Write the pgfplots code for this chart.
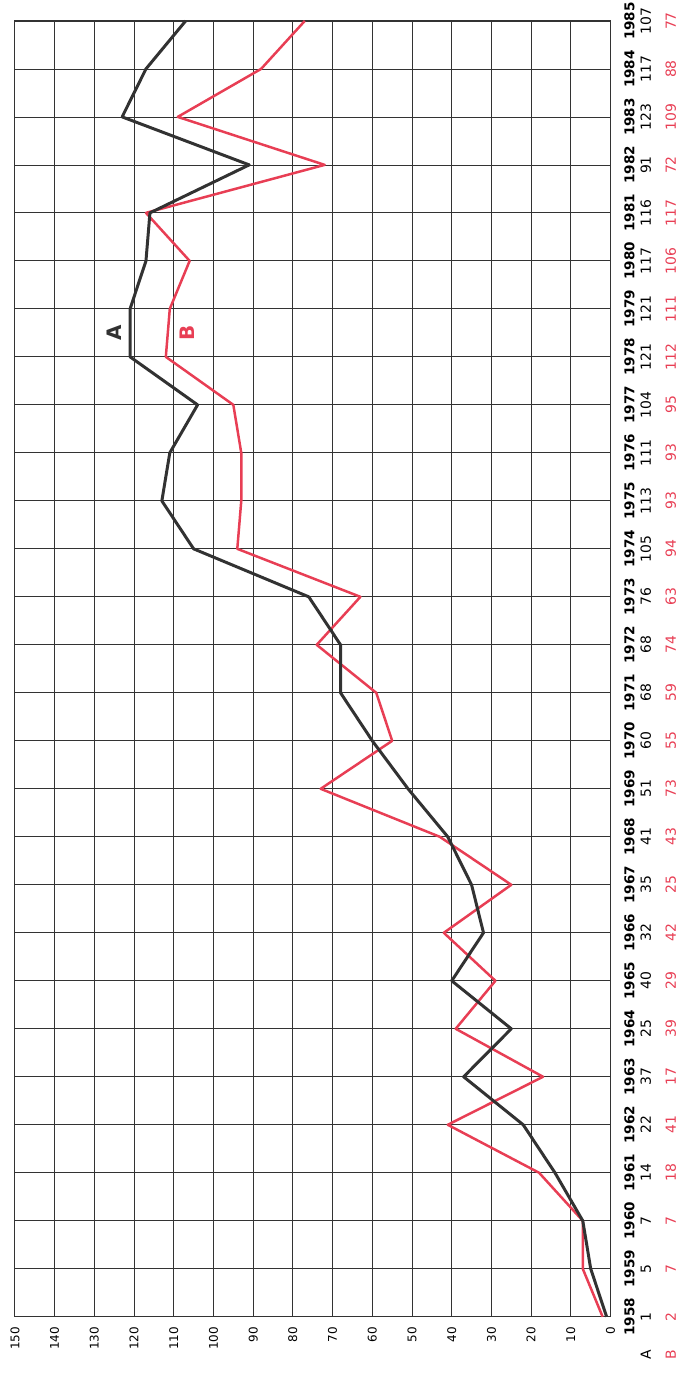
\documentclass[border=0pt]{standalone}
\usepackage{pgfplots}
\pgfplotsset{compat=1.18}
\usepackage{fontspec}
\setmainfont{DejaVu Sans}
\definecolor{bred}{RGB}{232,62,84}
\definecolor{aline}{RGB}{50,50,50}
\newcommand{\yl}[3]{{\fontsize{6.8}{8.25}\selectfont\bfseries #1}\\#2\\[4.25pt]\textcolor{bred}{#3}}
\begin{document}
\begin{tikzpicture}
\begin{axis}[
  scale only axis, width=299pt, height=650.5pt,
  x dir=reverse, xmin=0, xmax=150, ymin=1958, ymax=1985,
  xtick={0,10,...,150}, ytick={1958,1959,...,1985},
  grid=major, major grid style={line width=0.5pt, black!80},
  axis line style={line width=0.5pt, black!80},
  major tick length=0pt,
  /pgf/number format/assume math mode=true,
  xticklabel style={rotate=90, anchor=east, inner sep=0pt, xshift=-5pt, font=\fontsize{6}{7}\selectfont},
  yticklabel pos=right,
  yticklabel style={rotate=90, anchor=north, align=center, inner sep=0pt, yshift=-6.75pt, font=\fontsize{7}{8.25}\selectfont},
  yticklabels={{\yl{1958}{1}{2}},{\yl{1959}{5}{7}},{\yl{1960}{7}{7}},{\yl{1961}{14}{18}},
    {\yl{1962}{22}{41}},{\yl{1963}{37}{17}},{\yl{1964}{25}{39}},{\yl{1965}{40}{29}},
    {\yl{1966}{32}{42}},{\yl{1967}{35}{25}},{\yl{1968}{41}{43}},{\yl{1969}{51}{73}},
    {\yl{1970}{60}{55}},{\yl{1971}{68}{59}},{\yl{1972}{68}{74}},{\yl{1973}{76}{63}},
    {\yl{1974}{105}{94}},{\yl{1975}{113}{93}},{\yl{1976}{111}{93}},{\yl{1977}{104}{95}},
    {\yl{1978}{121}{112}},{\yl{1979}{121}{111}},{\yl{1980}{117}{106}},{\yl{1981}{116}{117}},
    {\yl{1982}{91}{72}},{\yl{1983}{123}{109}},{\yl{1984}{117}{88}},{\yl{1985}{107}{77}}},
  clip=false]
\addplot[bred, line width=1.25pt, line join=round] coordinates {
(2,1958)(7,1959)(7,1960)(18,1961)(41,1962)(17,1963)(39,1964)(29,1965)(42,1966)(25,1967)
(43,1968)(73,1969)(55,1970)(59,1971)(74,1972)(63,1973)(94,1974)(93,1975)(93,1976)(95,1977)
(112,1978)(111,1979)(106,1980)(117,1981)(72,1982)(109,1983)(88,1984)(77,1985)};
\addplot[aline, line width=1.5pt, line join=round] coordinates {
(1,1958)(5,1959)(7,1960)(14,1961)(22,1962)(37,1963)(25,1964)(40,1965)(32,1966)(35,1967)
(41,1968)(51,1969)(60,1970)(68,1971)(68,1972)(76,1973)(105,1974)(113,1975)(111,1976)(104,1977)
(121,1978)(121,1979)(117,1980)(116,1981)(91,1982)(123,1983)(117,1984)(107,1985)};
\node[rotate=90, font=\bfseries\fontsize{10}{12}\selectfont, text=aline] at (axis cs:125,1978.5) {A};
\node[rotate=90, font=\bfseries\fontsize{10}{12}\selectfont, text=bred] at (axis cs:106.5,1978.5) {B};
\node[rotate=90, anchor=north, align=center, inner sep=0pt, yshift=-6.75pt, font=\fontsize{7}{8.25}\selectfont] at (axis cs:0,1957.2) {{\fontsize{6.8}{8.25}\selectfont\bfseries\phantom{1958}}\\A\\[4.25pt]\textcolor{bred}{B}};
\coordinate (ll) at (axis cs:150,1958);
\coordinate (ur) at (axis cs:0,1985);
\end{axis}
\path ([shift={(-7.5pt,-26pt)}]ll) ([shift={(38pt,10.5pt)}]ur);
\end{tikzpicture}
\end{document}
